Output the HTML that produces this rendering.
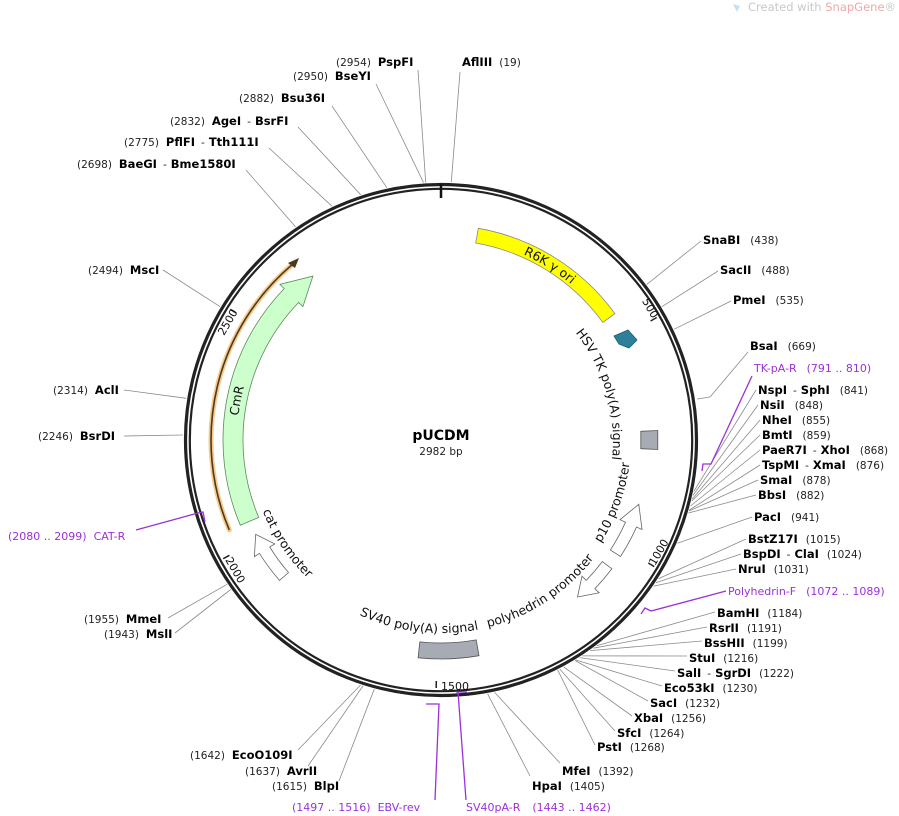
<!DOCTYPE html>
<html><head><meta charset="utf-8">
<style>
html,body{margin:0;padding:0;background:#fff;}
svg{display:block;font-family:"DejaVu Sans","Liberation Sans",sans-serif;}
.b{font-weight:bold;font-size:11.5px;fill:#000;}
.n{font-size:10.5px;fill:#222;}
.p{font-size:11px;fill:#9b30d9;}
.l{stroke:#8a8a8a;stroke-width:0.8;fill:none;}
.pl{stroke:#9b30d9;stroke-width:1.3;fill:none;}
.f{font-size:12.5px;fill:#111;}
</style></head><body>
<svg width="899" height="816" viewBox="0 0 899 816" xmlns="http://www.w3.org/2000/svg">
<defs>
<path id="cw203" d="M441,237 A203,203 0 1,1 441,643 A203,203 0 1,1 441,237"/>
<path id="cw172" d="M441,268 A172,172 0 1,1 441,612 A172,172 0 1,1 441,268"/>
<path id="cw204" d="M441,236 A204,204 0 1,1 441,644 A204,204 0 1,1 441,236"/>
<path id="ccw190" d="M441,250 A190,190 0 1,0 441,630 A190,190 0 1,0 441,250"/>
<path id="ccw193" d="M441,247 A193,193 0 1,0 441,633 A193,193 0 1,0 441,247"/>
<path id="ccw192" d="M441,248 A192,192 0 1,0 441,632 A192,192 0 1,0 441,248"/>
</defs>

<text x="748" y="11" font-size="11.5" fill="#c8c8c8">Created with <tspan fill="#f2a7a7">SnapGene</tspan>®</text>
<path d="M733,4 l4,8 l3,-6z" fill="#bfe3f2"/>

<circle cx="441" cy="440" r="255.5" fill="none" stroke="#222" stroke-width="3.2"/>
<circle cx="441" cy="440" r="251.2" fill="none" stroke="#222" stroke-width="2.2"/>
<line x1="441" y1="184" x2="441" y2="198" stroke="#111" stroke-width="2.5"/>

<g stroke="#222" stroke-width="1.5">
<line x1="656.7" y1="317.5" x2="650.6" y2="321"/>
<line x1="654.3" y1="566.6" x2="648.3" y2="563"/>
<line x1="436.2" y1="688" x2="436.3" y2="681"/>
<line x1="223.2" y1="558.7" x2="229.4" y2="555.3"/>
<line x1="230.2" y1="309.3" x2="236.2" y2="313"/>
</g>
<g font-size="11" fill="#111">
<text transform="translate(647,310) rotate(60)" text-anchor="middle">500</text>
<text transform="translate(662,554) rotate(-60)" text-anchor="middle">1000</text>
<text x="455" y="690" text-anchor="middle">1500</text>
<text transform="translate(232,572) rotate(60)" text-anchor="middle">2000</text>
<text transform="translate(231,324) rotate(-60)" text-anchor="middle">2500</text>
</g>

<path d="M478.3,228.3 A215,215 0 0,1 614.9,313.6 L602.8,322.4 A200,200 0 0,0 475.7,243 Z" fill="#ffff00" stroke="#888" stroke-width="0.8"/>
<text class="f"><textPath href="#cw203" startOffset="113" text-anchor="middle">R6K γ ori</textPath></text>

<path d="M614,336 L628,330 L637,340 L629,348 L619,344 Z" fill="#2d7f9a" stroke="#1d5f74" stroke-width="0.8"/>
<text class="f"><textPath href="#cw172" startOffset="222" text-anchor="middle">HSV TK poly(A) signal</textPath></text>

<path d="M657.8,430.5 L657.8,449.5 L640.8,448.7 L640.8,431.3 Z" fill="#a7abb3" stroke="#555" stroke-width="0.8"/>

<path d="M620.5,556.5 A214,214 0 0,0 636.5,527 L642,529.5 L638.8,504.3 L620,519.7 L625.5,522.2 A202,202 0 0,1 610.4,550 Z" fill="#fff" stroke="#666" stroke-width="0.8"/>
<text class="f"><textPath href="#ccw190" startOffset="829" text-anchor="middle">p10 promoter</textPath></text>

<path d="M611.9,568.8 A214,214 0 0,1 594.9,588.7 L599.2,592.8 L577.5,597 L582,576.2 L586.3,580.3 A202,202 0 0,0 602.3,561.6 Z" fill="#fff" stroke="#666" stroke-width="0.8"/>
<text class="f"><textPath href="#ccw193" startOffset="718" text-anchor="middle">polyhedrin promoter</textPath></text>

<path d="M479,655.7 A219,219 0 0,1 418.1,657.8 L419.8,641.9 A203,203 0 0,0 476.2,639.9 Z" fill="#a7abb3" stroke="#555" stroke-width="0.8"/>
<text class="f"><textPath href="#ccw193" startOffset="583" text-anchor="middle">SV40 poly(A) signal</textPath></text>

<path d="M279.5,580.4 A214,214 0 0,1 259.5,553.4 L254.4,556.6 L255.7,534.4 L274.8,543.9 L269.7,547 A202,202 0 0,0 288.5,572.5 Z" fill="#fff" stroke="#666" stroke-width="0.8"/>
<text class="f"><textPath href="#ccw192" startOffset="415" text-anchor="middle">cat promoter</textPath></text>

<path d="M240.3,525.2 A218,218 0 0,1 284.2,288.6 L279.9,284.4 L312.9,276.1 L302.9,306.6 L298.6,302.5 A198,198 0 0,0 258.7,517.4 Z" fill="#ccffcc" stroke="#5a8a5a" stroke-width="0.8"/>
<text class="f"><textPath href="#cw204" startOffset="1000" text-anchor="middle">CmR</textPath></text>

<path d="M229.3,529.9 A230,230 0 0,1 293.2,263.8" fill="none" stroke="#f7c98a" stroke-width="5" stroke-linecap="round"/>
<path d="M229.3,529.9 A230,230 0 0,1 293.2,263.8" fill="none" stroke="#4a3a20" stroke-width="1.6"/>
<path d="M299,258 L288,263 L295,268 Z" fill="#4a3a20"/>

<text x="441" y="440" text-anchor="middle" font-size="14" font-weight="bold">pUCDM</text>
<text x="441" y="455" text-anchor="middle" font-size="10.5" fill="#222">2982 bp</text>

<g class="l">
<path d="M418,70 L425.7,182.5"/>
<path d="M460,72 L451.3,182.2"/>
<path d="M376,84 L423.5,182.6"/>
<path d="M332,106 L386.9,187.7"/>
<path d="M298,127 L360.8,194.8"/>
<path d="M269,148 L332,206.2"/>
<path d="M246,170 L295.6,226.9"/>
<path d="M163,270 L220.1,306.7"/>
<path d="M124,390 L186.4,398.3"/>
<path d="M124,436 L183,435"/>
<path d="M168,618 L227.1,584.3"/>
<path d="M175,633 L230.7,589.5"/>
<path d="M298,750 L360.4,685.1"/>
<path d="M308,766 L363,685.9"/>
<path d="M339,781 L374.2,689.2"/>
<path d="M530,776 L487.6,693.8"/>
<path d="M560,763 L494.6,692.4"/>
<path d="M595,745 L557.7,670.1"/>
<path d="M615,731 L559.7,669"/>
<path d="M632,716 L563.7,666.9"/>
<path d="M648,701 L575,660.5"/>
<path d="M662,686 L575.8,660"/>
<path d="M675,671 L579.6,657.6"/>
<path d="M687,656 L582.3,655.9"/>
<path d="M702,641 L590.1,650.6"/>
<path d="M707,627 L593.4,648.2"/>
<path d="M715,612 L596.6,645.8"/>
<path d="M736,569 L653.6,586.1"/>
<path d="M741,554 L655.9,582.8"/>
<path d="M746,539 L658.6,578.6"/>
<path d="M752,517 L677.4,543.3"/>
<path d="M756,495 L688.4,513"/>
<path d="M758,480 L689,511"/>
<path d="M760,465 L689.3,510"/>
<path d="M760,450 L690.5,506"/>
<path d="M760,435 L691.7,501"/>
<path d="M760,420 L692.2,499"/>
<path d="M758,405 L693,495.4"/>
<path d="M756,390 L693.8,491.4"/>
<path d="M748,352 L710,397 L697,399"/>
<path d="M731,301 L674.1,329.3"/>
<path d="M718,271 L661.9,306.7"/>
<path d="M701,241 L646.8,284.4"/>
</g>

<g class="pl">
<path d="M752,376 L711,464 L703,464 L702,471"/>
<path d="M726,591 L651,611 L645,608 L641,614"/>
<path d="M136,530 L198,513 L203,512 L205,522"/>
<path d="M426,704 L439,704 L435,800"/>
<path d="M456,692 L467,692 M458,692 L466,800"/>
</g>

<text x="336" y="66"><tspan class="n">(2954)</tspan><tspan class="b" dx="7">PspFI</tspan></text>
<text x="462" y="66"><tspan class="b">AflIII</tspan><tspan class="n" dx="7">(19)</tspan></text>
<text x="293" y="80"><tspan class="n">(2950)</tspan><tspan class="b" dx="7">BseYI</tspan></text>
<text x="239" y="102"><tspan class="n">(2882)</tspan><tspan class="b" dx="7">Bsu36I</tspan></text>
<text x="170" y="125"><tspan class="n">(2832)</tspan><tspan class="b" dx="7">AgeI</tspan><tspan class="n" dx="6">-</tspan><tspan class="b" dx="4">BsrFI</tspan></text>
<text x="124" y="146"><tspan class="n">(2775)</tspan><tspan class="b" dx="7">PflFI</tspan><tspan class="n" dx="6">-</tspan><tspan class="b" dx="4">Tth111I</tspan></text>
<text x="77" y="168"><tspan class="n">(2698)</tspan><tspan class="b" dx="7">BaeGI</tspan><tspan class="n" dx="6">-</tspan><tspan class="b" dx="4">Bme1580I</tspan></text>
<text x="88" y="274"><tspan class="n">(2494)</tspan><tspan class="b" dx="7">MscI</tspan></text>
<text x="53" y="394"><tspan class="n">(2314)</tspan><tspan class="b" dx="7">AclI</tspan></text>
<text x="38" y="440"><tspan class="n">(2246)</tspan><tspan class="b" dx="7">BsrDI</tspan></text>
<text x="8" y="540" class="p">(2080 .. 2099)<tspan dx="7">CAT-R</tspan></text>
<text x="84" y="623"><tspan class="n">(1955)</tspan><tspan class="b" dx="7">MmeI</tspan></text>
<text x="104" y="638"><tspan class="n">(1943)</tspan><tspan class="b" dx="7">MslI</tspan></text>
<text x="190" y="759"><tspan class="n">(1642)</tspan><tspan class="b" dx="7">EcoO109I</tspan></text>
<text x="245" y="775"><tspan class="n">(1637)</tspan><tspan class="b" dx="7">AvrII</tspan></text>
<text x="272" y="790"><tspan class="n">(1615)</tspan><tspan class="b" dx="7">BlpI</tspan></text>
<text x="292" y="811" class="p">(1497 .. 1516)<tspan dx="7">EBV-rev</tspan></text>
<text x="466" y="811" class="p">SV40pA-R<tspan dx="12">(1443 .. 1462)</tspan></text>
<text x="532" y="790"><tspan class="b">HpaI</tspan><tspan class="n" dx="8">(1405)</tspan></text>
<text x="562" y="775"><tspan class="b">MfeI</tspan><tspan class="n" dx="8">(1392)</tspan></text>
<text x="597" y="751"><tspan class="b">PstI</tspan><tspan class="n" dx="8">(1268)</tspan></text>
<text x="617" y="737"><tspan class="b">SfcI</tspan><tspan class="n" dx="8">(1264)</tspan></text>
<text x="634" y="722"><tspan class="b">XbaI</tspan><tspan class="n" dx="8">(1256)</tspan></text>
<text x="650" y="707"><tspan class="b">SacI</tspan><tspan class="n" dx="8">(1232)</tspan></text>
<text x="664" y="692"><tspan class="b">Eco53kI</tspan><tspan class="n" dx="8">(1230)</tspan></text>
<text x="677" y="677"><tspan class="b">SalI</tspan><tspan class="n" dx="6">-</tspan><tspan class="b" dx="4">SgrDI</tspan><tspan class="n" dx="8">(1222)</tspan></text>
<text x="689" y="662"><tspan class="b">StuI</tspan><tspan class="n" dx="8">(1216)</tspan></text>
<text x="704" y="647"><tspan class="b">BssHII</tspan><tspan class="n" dx="8">(1199)</tspan></text>
<text x="709" y="632"><tspan class="b">RsrII</tspan><tspan class="n" dx="8">(1191)</tspan></text>
<text x="717" y="617"><tspan class="b">BamHI</tspan><tspan class="n" dx="8">(1184)</tspan></text>
<text x="728" y="595" class="p">Polyhedrin-F<tspan dx="10">(1072 .. 1089)</tspan></text>
<text x="738" y="573"><tspan class="b">NruI</tspan><tspan class="n" dx="8">(1031)</tspan></text>
<text x="743" y="558"><tspan class="b">BspDI</tspan><tspan class="n" dx="6">-</tspan><tspan class="b" dx="4">ClaI</tspan><tspan class="n" dx="8">(1024)</tspan></text>
<text x="748" y="543"><tspan class="b">BstZ17I</tspan><tspan class="n" dx="8">(1015)</tspan></text>
<text x="754" y="521"><tspan class="b">PacI</tspan><tspan class="n" dx="10">(941)</tspan></text>
<text x="758" y="499"><tspan class="b">BbsI</tspan><tspan class="n" dx="10">(882)</tspan></text>
<text x="760" y="484"><tspan class="b">SmaI</tspan><tspan class="n" dx="10">(878)</tspan></text>
<text x="762" y="469"><tspan class="b">TspMI</tspan><tspan class="n" dx="6">-</tspan><tspan class="b" dx="4">XmaI</tspan><tspan class="n" dx="10">(876)</tspan></text>
<text x="762" y="454"><tspan class="b">PaeR7I</tspan><tspan class="n" dx="6">-</tspan><tspan class="b" dx="4">XhoI</tspan><tspan class="n" dx="10">(868)</tspan></text>
<text x="762" y="439"><tspan class="b">BmtI</tspan><tspan class="n" dx="10">(859)</tspan></text>
<text x="762" y="424"><tspan class="b">NheI</tspan><tspan class="n" dx="10">(855)</tspan></text>
<text x="760" y="409"><tspan class="b">NsiI</tspan><tspan class="n" dx="10">(848)</tspan></text>
<text x="758" y="394"><tspan class="b">NspI</tspan><tspan class="n" dx="6">-</tspan><tspan class="b" dx="4">SphI</tspan><tspan class="n" dx="10">(841)</tspan></text>
<text x="754" y="372" class="p">TK-pA-R<tspan dx="10">(791 .. 810)</tspan></text>
<text x="750" y="350"><tspan class="b">BsaI</tspan><tspan class="n" dx="10">(669)</tspan></text>
<text x="733" y="304"><tspan class="b">PmeI</tspan><tspan class="n" dx="10">(535)</tspan></text>
<text x="720" y="274"><tspan class="b">SacII</tspan><tspan class="n" dx="10">(488)</tspan></text>
<text x="703" y="244"><tspan class="b">SnaBI</tspan><tspan class="n" dx="10">(438)</tspan></text>
</svg>
</body></html>
